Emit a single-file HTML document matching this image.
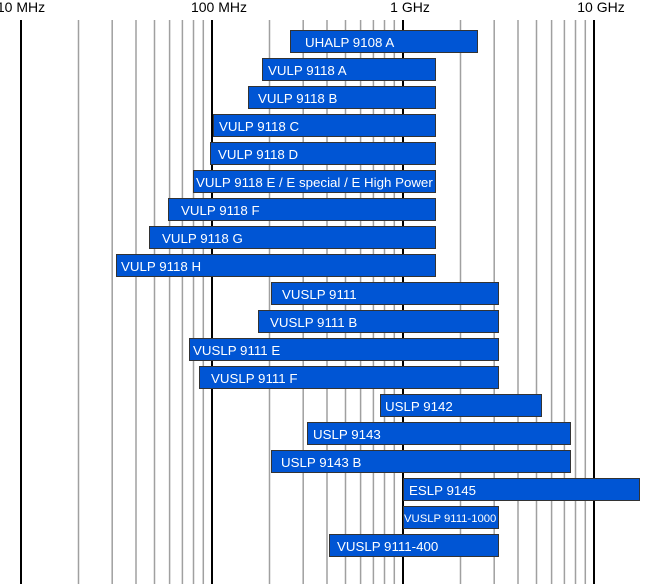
<!DOCTYPE html><html><head><style>body{margin:0;background:#fff}svg{display:block}text{font-family:"Liberation Sans",Arial,sans-serif}</style></head><body>
<svg width="653" height="584" viewBox="0 0 653 584" xmlns="http://www.w3.org/2000/svg">
<g stroke="#a0a0a0" stroke-width="1.5">
<line x1="78.5" y1="20" x2="78.5" y2="584"/><line x1="112.2" y1="20" x2="112.2" y2="584"/><line x1="136" y1="20" x2="136" y2="584"/><line x1="154.5" y1="20" x2="154.5" y2="584"/><line x1="169.6" y1="20" x2="169.6" y2="584"/><line x1="182.4" y1="20" x2="182.4" y2="584"/><line x1="193.5" y1="20" x2="193.5" y2="584"/><line x1="203.3" y1="20" x2="203.3" y2="584"/>
<line x1="269.5" y1="20" x2="269.5" y2="584"/><line x1="303.2" y1="20" x2="303.2" y2="584"/><line x1="327" y1="20" x2="327" y2="584"/><line x1="345.5" y1="20" x2="345.5" y2="584"/><line x1="360.6" y1="20" x2="360.6" y2="584"/><line x1="373.4" y1="20" x2="373.4" y2="584"/><line x1="384.5" y1="20" x2="384.5" y2="584"/><line x1="394.3" y1="20" x2="394.3" y2="584"/>
<line x1="460.5" y1="20" x2="460.5" y2="584"/><line x1="494.2" y1="20" x2="494.2" y2="584"/><line x1="518" y1="20" x2="518" y2="584"/><line x1="536.5" y1="20" x2="536.5" y2="584"/><line x1="551.6" y1="20" x2="551.6" y2="584"/><line x1="564.4" y1="20" x2="564.4" y2="584"/><line x1="575.5" y1="20" x2="575.5" y2="584"/><line x1="585.3" y1="20" x2="585.3" y2="584"/>
</g>
<g stroke="#000" stroke-width="2">
<line x1="21" y1="20" x2="21" y2="584"/><line x1="212" y1="20" x2="212" y2="584"/><line x1="403" y1="20" x2="403" y2="584"/><line x1="594" y1="20" x2="594" y2="584"/>
</g>
<g font-size="14" fill="#000" text-anchor="middle">
<text x="21" y="12">10 MHz</text><text x="219" y="12">100 MHz</text><text x="410" y="12">1 GHz</text><text x="601" y="12">10 GHz</text>
</g>
<g fill="#0055d4" stroke="#333" stroke-width="1">
<rect x="290.5" y="30.5" width="187" height="22"/>
<rect x="262.5" y="58.5" width="173" height="22"/>
<rect x="248.5" y="86.5" width="187" height="22"/>
<rect x="213.5" y="114.5" width="222" height="22"/>
<rect x="210.5" y="142.5" width="225" height="22"/>
<rect x="193.5" y="170.5" width="242" height="22"/>
<rect x="168.5" y="198.5" width="267" height="22"/>
<rect x="149.5" y="226.5" width="286" height="22"/>
<rect x="116.5" y="254.5" width="319" height="22"/>
<rect x="271.5" y="282.5" width="227" height="22"/>
<rect x="258.5" y="310.5" width="240" height="22"/>
<rect x="189.5" y="338.5" width="309" height="22"/>
<rect x="199.5" y="366.5" width="299" height="22"/>
<rect x="380.5" y="394.5" width="161" height="22"/>
<rect x="307.5" y="422.5" width="263" height="22"/>
<rect x="271.5" y="450.5" width="299" height="22"/>
<rect x="403.5" y="478.5" width="236" height="22"/>
<rect x="403.5" y="506.5" width="95" height="22"/>
<rect x="329.5" y="534.5" width="169" height="22"/>
</g>
<g font-size="13.3" fill="#fff">
<text x="305" y="47">UHALP 9108 A</text>
<text x="268" y="75">VULP 9118 A</text>
<text x="258" y="103">VULP 9118 B</text>
<text x="219" y="131">VULP 9118 C</text>
<text x="218" y="159">VULP 9118 D</text>
<text x="196" y="187">VULP 9118 E / E special / E High Power</text>
<text x="181" y="215">VULP 9118 F</text>
<text x="162" y="243">VULP 9118 G</text>
<text x="121" y="271">VULP 9118 H</text>
<text x="282" y="299">VUSLP 9111</text>
<text x="270" y="327">VUSLP 9111 B</text>
<text x="193" y="355">VUSLP 9111 E</text>
<text x="211" y="383">VUSLP 9111 F</text>
<text x="385" y="411">USLP 9142</text>
<text x="313" y="439">USLP 9143</text>
<text x="281" y="467">USLP 9143 B</text>
<text x="409" y="495">ESLP 9145</text>
<text x="404" y="522" font-size="11.3">VUSLP 9111-1000</text>
<text x="337" y="551">VUSLP 9111-400</text>
</g>
</svg>
</body></html>
